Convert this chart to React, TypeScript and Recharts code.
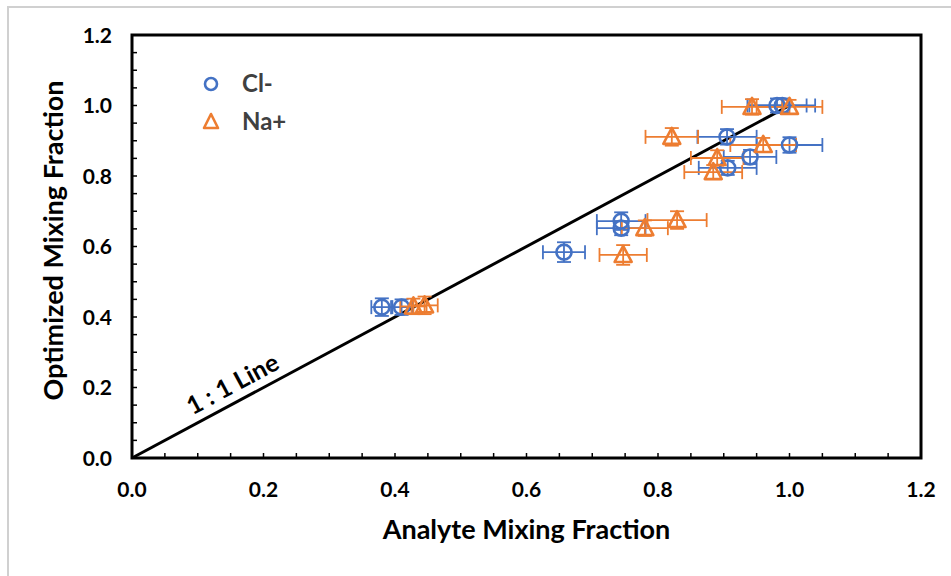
import {
  ScatterChart,
  Scatter,
  XAxis,
  YAxis,
  ErrorBar,
  ReferenceLine,
  ReferenceArea,
  ReferenceDot,
  Label,
} from "recharts";

// Cl- : analyte fraction (x), optimized fraction (y) and their uncertainties
const clX = [0.38, 0.41, 0.657, 0.744, 0.744, 0.905, 0.906, 0.94, 0.981, 0.989, 1.0];
const clY = [0.428, 0.428, 0.584, 0.672, 0.652, 0.911, 0.823, 0.854, 1.0, 1.0, 0.888];
const clXErr = [0.016, 0.016, 0.032, 0.037, 0.037, 0.045, 0.044, 0.04, 0.045, 0.05, 0.05];
const clYErr = [0.025, 0.022, 0.028, 0.025, 0.02, 0.022, 0.02, 0.02, 0.02, 0.02, 0.022];

// Na+
const naX = [0.428, 0.445, 0.747, 0.78, 0.829, 0.821, 0.884, 0.89, 0.96, 0.943, 1.0];
const naY = [0.43, 0.433, 0.576, 0.652, 0.675, 0.911, 0.811, 0.851, 0.888, 0.996, 0.996];
const naXErr = [0.02, 0.02, 0.036, 0.035, 0.045, 0.04, 0.044, 0.04, 0.05, 0.046, 0.05];
const naYErr = [0.022, 0.025, 0.028, 0.022, 0.025, 0.025, 0.02, 0.022, 0.02, 0.022, 0.02];

const axisTicks = [
  0, 0.05, 0.1, 0.15, 0.2, 0.25, 0.3, 0.35, 0.4, 0.45, 0.5, 0.55, 0.6,
  0.65, 0.7, 0.75, 0.8, 0.85, 0.9, 0.95, 1.0, 1.05, 1.1, 1.15, 1.2,
];
const labelledTicks = [0, 0.2, 0.4, 0.6, 0.8, 1.0, 1.2];

const oneToOne = [
  { x: 0, y: 0 },
  { x: 1, y: 1 },
];

const BLUE = "#4472C4";
const ORANGE = "#ED7D31";
const FONT = "Lato, 'Open Sans', sans-serif";

const build = (xs: number[], ys: number[], xe: number[], ye: number[]) =>
  xs.map((x, i) => ({ x, y: ys[i], ex: xe[i], ey: ye[i] }));

const clData = build(clX, clY, clXErr, clYErr);
const naData = build(naX, naY, naXErr, naYErr);

const tickText = { fontFamily: FONT, fontWeight: 700, fontSize: 21, fill: "#000" };

// inward tick mark plus label on the major values only
const XTick = (props: any) => {
  const { x, y, payload } = props;
  const v = payload.value;
  return (
    <g>
      <line x1={x} y1={y} x2={x} y2={y - 5} stroke="#000" strokeWidth={1.5} />
      {labelledTicks.includes(v) && (
        <text x={x} y={y + 39} textAnchor="middle" {...tickText}>
          {v.toFixed(1)}
        </text>
      )}
    </g>
  );
};

const YTick = (props: any) => {
  const { x, y, payload } = props;
  const v = payload.value;
  return (
    <g>
      <line x1={x} y1={y} x2={x + 5} y2={y} stroke="#000" strokeWidth={1.5} />
      {labelledTicks.includes(v) && (
        <text x={x - 20} y={y + 7.5} textAnchor="end" {...tickText}>
          {v.toFixed(1)}
        </text>
      )}
    </g>
  );
};

const CircleMark = (props: any) => (
  <circle cx={props.cx} cy={props.cy} r={7.5} fill="none" stroke={BLUE} strokeWidth={2.6} />
);

const TriangleMark = (props: any) => {
  const { cx, cy } = props;
  return (
    <path
      d={`M${cx},${cy - 9} L${cx + 8.5},${cy + 7} L${cx - 8.5},${cy + 7} Z`}
      fill="none"
      stroke={ORANGE}
      strokeWidth={2.6}
      strokeLinejoin="round"
    />
  );
};

const LegendBox = () => (
  <svg width={140} height={100} style={{ position: "absolute", left: 190, top: 60, fontFamily: FONT }}>
    <circle cx={21} cy={24} r={6} fill="none" stroke={BLUE} strokeWidth={2.6} />
    <text x={52} y={32} fontSize={24} fontWeight={700} fill="#404040">
      Cl-
    </text>
    <path d="M21,54 L28,68 L14,68 Z" fill="none" stroke={ORANGE} strokeWidth={2.6} strokeLinejoin="round" />
    <text x={52} y={70} fontSize={24} fontWeight={700} fill="#404040">
      Na+
    </text>
  </svg>
);

const lineLabel = (props: any) => {
  const { x, y } = props.viewBox;
  return (
    <text
      x={x}
      y={y}
      textAnchor="middle"
      dominantBaseline="central"
      transform={`rotate(-28.2 ${x} ${y})`}
      fontFamily={FONT}
      fontWeight={700}
      fontSize={25}
      fill="#000"
    >
      1 : 1 Line
    </text>
  );
};

const xTitle = (props: any) => {
  const { x, y, width } = props.viewBox;
  return (
    <text x={x + width / 2} y={y + 81} textAnchor="middle" fontFamily={FONT} fontWeight={700} fontSize={27} fill="#000">
      Analyte Mixing Fraction
    </text>
  );
};

const yTitle = (props: any) => {
  const { x, y, width, height } = props.viewBox;
  const cx = x + width - 80;
  const cy = y + height / 2 - 6;
  return (
    <text
      x={cx}
      y={cy}
      textAnchor="middle"
      dominantBaseline="central"
      transform={`rotate(-90 ${cx} ${cy})`}
      fontFamily={FONT}
      fontWeight={700}
      fontSize={27}
      fill="#000"
    >
      Optimized Mixing Fraction
    </text>
  );
};

export default function App() {
  return (
    <div style={{ position: "absolute", left: 0, top: 0, width: 951, height: 576, background: "#fff" }}>
      <div
        style={{
          position: "absolute",
          left: 7,
          top: 6,
          right: 0,
          bottom: 0,
          borderLeft: "2px solid #d0d0d0",
          borderTop: "2px solid #d0d0d0",
        }}
      />
      <ScatterChart width={951} height={576} margin={{ top: 35, right: 30, bottom: 78, left: 92 }}>
        <XAxis
          type="number"
          dataKey="x"
          domain={[0, 1.2]}
          ticks={axisTicks}
          interval={0}
          tickSize={0}
          tickMargin={0}
          tickLine={false}
          axisLine={false}
          tick={<XTick />}
          height={40}
          allowDataOverflow
        >
          <Label content={xTitle} />
        </XAxis>
        <YAxis
          type="number"
          dataKey="y"
          domain={[0, 1.2]}
          ticks={axisTicks}
          interval={0}
          tickSize={0}
          tickMargin={0}
          tickLine={false}
          axisLine={false}
          tick={<YTick />}
          width={40}
          allowDataOverflow
        >
          <Label content={yTitle} />
        </YAxis>
        <ReferenceArea x1={0} x2={1.2} y1={0} y2={1.2} fill="none" stroke="#000" strokeWidth={3} ifOverflow="visible" />
        <ReferenceLine segment={oneToOne} stroke="#000" strokeWidth={3} ifOverflow="visible" />
        <ReferenceDot x={0.152} y={0.213} r={0} fill="none" stroke="none" label={lineLabel} />
        <Scatter data={clData} shape={CircleMark} isAnimationActive={false}>
          <ErrorBar dataKey="ex" direction="x" width={7} stroke={BLUE} strokeWidth={1.8} />
          <ErrorBar dataKey="ey" direction="y" width={7} stroke={BLUE} strokeWidth={1.8} />
        </Scatter>
        <Scatter data={naData} shape={TriangleMark} isAnimationActive={false}>
          <ErrorBar dataKey="ex" direction="x" width={7} stroke={ORANGE} strokeWidth={1.8} />
          <ErrorBar dataKey="ey" direction="y" width={7} stroke={ORANGE} strokeWidth={1.8} />
        </Scatter>
      </ScatterChart>
      <LegendBox />
    </div>
  );
}
